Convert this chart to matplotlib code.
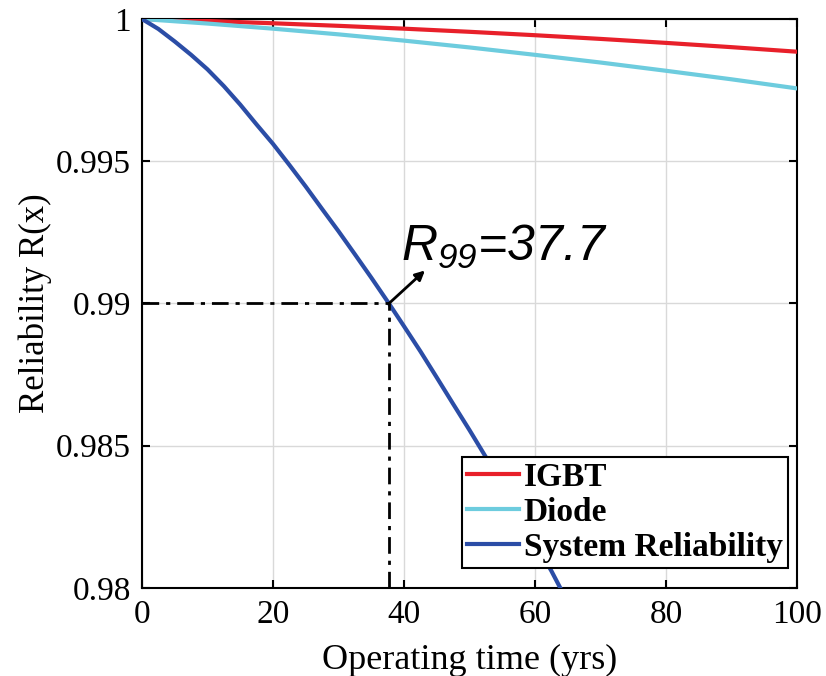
import matplotlib
matplotlib.use("Agg")
import matplotlib.pyplot as plt

# Reliability curves over operating time (years)
t_comp = [0, 10, 20, 30, 40, 50, 60, 70, 80, 90, 100]
r_igbt = [1.0, 0.99993, 0.99985, 0.99976, 0.99966, 0.99955, 0.99943, 0.99930, 0.99916, 0.99901, 0.99885]
r_diode = [1.0, 0.99984, 0.99966, 0.99946, 0.99924, 0.99900, 0.99874, 0.99847, 0.99818, 0.99788, 0.99756]

t_sys = [0, 2.5, 5, 7.5, 10, 12.5, 15, 17.5, 20, 22.5, 25, 27.5, 30, 32.5, 35, 37.7,
         40, 42.5, 45, 47.5, 50, 52.5, 55, 57.5, 60, 62.5, 65, 67.5]
r_sys = [1.0, 0.99965, 0.99921, 0.99874, 0.99823, 0.99764, 0.99699, 0.99629, 0.99561,
         0.99487, 0.99411, 0.99332, 0.99254, 0.99173, 0.99091, 0.99000,
         0.98920, 0.98832, 0.98740, 0.98647, 0.98555, 0.98460, 0.98365, 0.98268, 0.98160,
         0.98060, 0.97950, 0.97850]

r99_time = 37.7
r99_level = 0.99

x_ticks = [0, 20, 40, 60, 80, 100]
y_ticks = [0.98, 0.985, 0.99, 0.995, 1.0]
y_tick_labels = ["0.98", "0.985", "0.99", "0.995", "1"]

plt.rcParams["mathtext.fontset"] = "custom"
plt.rcParams["mathtext.it"] = "Liberation Sans:italic"
plt.rcParams["mathtext.rm"] = "Liberation Sans:italic"

fig = plt.figure(figsize=(8.26, 6.76), dpi=100)
ax = fig.add_axes([0.1719, 0.1302, 0.7930, 0.8417])

ax.plot(t_comp, r_igbt, color="#E8202A", lw=3.0, label="IGBT", zorder=3)
ax.plot(t_comp, r_diode, color="#6DCCDE", lw=3.0, label="Diode", zorder=3)
ax.plot(t_sys, r_sys, color="#2B4DA6", lw=3.0, label="System Reliability", zorder=4)

# R99 guide lines
dashdot = (0, (6, 2.5, 1.5, 2.5))
ax.plot([0, r99_time], [r99_level, r99_level], color="black", lw=2.0,
        linestyle=dashdot, zorder=5)
ax.plot([r99_time, r99_time], [0.98, r99_level], color="black", lw=2.0,
        linestyle=dashdot, zorder=5)

ax.annotate("", xy=(43.2, 0.99116), xytext=(r99_time, r99_level),
            arrowprops=dict(arrowstyle="-|>", color="black", lw=2.0,
                            mutation_scale=14, shrinkA=0, shrinkB=0), zorder=6)
ax.text(39.5, 0.99148, r"$R_{99}$=37.7", fontsize=36, fontstyle="italic",
        family="Liberation Sans", ha="left", va="baseline", color="black")

ax.set_xlim(0, 100)
ax.set_ylim(0.98, 1.0)
ax.set_xticks(x_ticks)
ax.set_yticks(y_ticks)
ax.set_yticklabels(y_tick_labels)
ax.grid(True, color="#D9D9D9", lw=1.0)
ax.set_axisbelow(True)

for sp in ax.spines.values():
    sp.set_linewidth(1.5)
    sp.set_color("black")

ax.tick_params(direction="in", top=True, right=True, length=6, width=1.5,
               labelsize=24, pad=8)
for lab in ax.get_xticklabels() + ax.get_yticklabels():
    lab.set_family("Liberation Serif")

ax.set_xlabel("Operating time (yrs)", fontsize=26, family="Liberation Serif", labelpad=10)
ax.set_ylabel("Reliability R(x)", fontsize=25, family="Liberation Serif", labelpad=3)

leg = ax.legend(loc="lower right", bbox_to_anchor=(0.986, 0.035), borderaxespad=0,
                prop={"family": "Liberation Serif", "weight": "bold", "size": 24},
                handlelength=1.55, handletextpad=0.15, labelspacing=0.12,
                borderpad=0.15, fancybox=False, framealpha=1.0)
leg.get_frame().set_edgecolor("black")
leg.get_frame().set_linewidth(1.5)
leg.set_zorder(10)

fig.savefig("out.png", dpi=100)
